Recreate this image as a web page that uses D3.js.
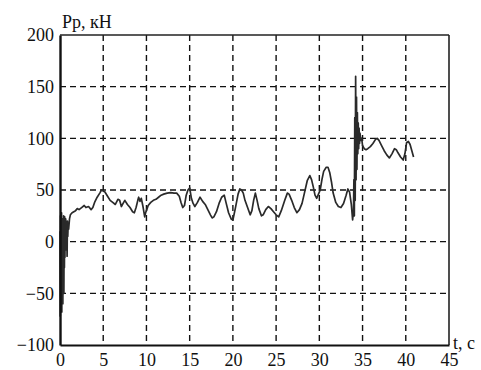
<!DOCTYPE html>
<html>
<head>
<meta charset="utf-8">
<script src="https://cdn.jsdelivr.net/npm/d3@7"></script>
<style>
  html, body { margin: 0; padding: 0; background: #ffffff; }
  svg { display: block; }
  svg text { font-family: "Liberation Serif", "Times New Roman", Times, "DejaVu Serif", serif !important; font-size: 18px; fill: #111; }
</style>
</head>
<body>
<svg id="chart" width="481" height="370"></svg>
<script>
// ---- data ----
const xTicks = [0, 5, 10, 15, 20, 25, 30, 35, 40, 45];
const yTicks = [-100, -50, 0, 50, 100, 150, 200];
const yTickLabels = ["\u2212100", "\u221250", "0", "50", "100", "150", "200"];
const yAxisTitle = "Pp, \u043a\u041d";
const xAxisTitle = "t, c";

const time = [
  0.00,0.03,0.06,0.09,0.12,0.15,0.18,0.21,0.24,0.27,0.30,0.33,0.36,0.39,0.42,0.45,0.48,0.51,0.54,0.57,
  0.60,0.63,0.66,0.69,0.72,0.75,0.78,0.82,0.86,0.90,0.95,1.0,1.1,1.2,1.4,1.6,1.8,2.0,2.2,2.5,
  2.8,3.0,3.3,3.6,3.8,4.0,4.3,4.6,4.8,5.0,5.2,5.5,5.8,6.1,6.4,6.7,6.9,7.1,7.3,7.5,
  7.8,8.1,8.4,8.6,8.8,9.0,9.1,9.25,9.4,9.6,9.8,9.9,10.0,10.2,10.5,10.8,11.1,11.4,11.7,12.0,
  12.4,12.8,13.2,13.5,13.8,14.0,14.2,14.4,14.6,14.8,15.0,15.2,15.4,15.6,15.9,16.2,16.5,16.8,17.1,17.4,
  17.6,17.8,18.1,18.4,18.7,19.0,19.2,19.5,19.8,20.0,20.3,20.6,20.8,21.0,21.2,21.4,21.7,22.0,22.2,22.4,
  22.6,22.8,23.0,23.3,23.5,23.8,24.1,24.4,24.7,25.0,25.3,25.6,26.0,26.3,26.5,26.8,27.1,27.4,27.7,28.0,
  28.3,28.6,28.9,29.1,29.3,29.5,29.7,29.9,30.1,30.3,30.5,30.8,31.0,31.2,31.4,31.6,31.9,32.2,32.5,32.8,
  33.1,33.3,33.5,33.7,33.85,33.95,34.0,34.05,34.1,34.15,34.2,34.25,34.3,34.35,34.4,34.45,34.5,34.55,34.6,34.65,
  34.7,34.8,34.9,35.0,35.2,35.4,35.6,35.9,36.2,36.5,36.7,36.9,37.2,37.5,37.8,38.1,38.4,38.7,38.9,39.1,
  39.4,39.7,39.9,40.1,40.3,40.5,40.7,40.9
];
const force = [
  10,-72,25,-65,20,-55,28,-68,18,-45,22,-60,15,-35,25,-50,20,-25,24,-15,
  18,0,22,-8,20,2,16,-14,20,5,18,12,22,26,28,29,30,32,31,33,
  35,33,34,31,33,38,43,47,50,49,48,44,40,38,36,41,40,34,37,40,
  36,33,29,28,33,40,43,39,42,34,24,28,30,35,38,40,41,43,45,46,
  47,47.5,47,47,44,38,33,35,45,50,52,42,37,34,38,43,39,36,31,26,
  23,24,29,37,43,45,38,28,22,21,33,46,51,50,47,40,33,26,30,40,
  47,40,32,25,26,31,34,32,29,26,24,30,40,47,46,40,33,28,31,37,
  48,59,64,60,53,45,42,46,50,60,68,72,72,67,58,47,38,34,33,37,
  45,51,48,36,21,30,60,25,120,40,160,60,140,70,125,85,115,90,110,95,
  105,98,100,93,90,89,90,92,95,99,100,98,93,88,84,81,85,90,89,86,
  82,79,85,96,97,94,88,82
];

// ---- chart ----
const svg = d3.select("#chart");
const mLeft = 60, mRight = 449, mTop = 35, mBottom = 345;
const x = d3.scaleLinear().domain([0, 45]).range([mLeft, mRight]);
const y = d3.scaleLinear().domain([-100, 200]).range([mBottom, mTop]);

// grid
const grid = svg.append("g").attr("stroke", "#111").attr("stroke-width", 1.4)
  .attr("stroke-dasharray", "6,4");
grid.selectAll("line.v").data(xTicks.filter(d => d > 0 && d < 45)).join("line")
  .attr("class", "v")
  .attr("x1", d => x(d)).attr("x2", d => x(d)).attr("y1", y(200)).attr("y2", y(-100));
grid.selectAll("line.h").data(yTicks.filter(d => d > -100 && d < 200)).join("line")
  .attr("class", "h")
  .attr("x1", x(0)).attr("x2", x(45)).attr("y1", d => y(d)).attr("y2", d => y(d));

// frame
svg.append("line").attr("x1", x(0)).attr("x2", x(45)).attr("y1", y(200)).attr("y2", y(200))
  .attr("stroke", "#222").attr("stroke-width", 1.4);
svg.append("line").attr("x1", x(45)).attr("x2", x(45)).attr("y1", y(200)).attr("y2", y(-100))
  .attr("stroke", "#222").attr("stroke-width", 1.6);

// data line
const pts = time.map((t, i) => [t, force[i]]);
svg.append("path").datum(pts)
  .attr("fill", "none").attr("stroke", "#2a2a2a").attr("stroke-width", 1.7)
  .attr("stroke-linejoin", "round")
  .attr("d", d3.line().x(d => x(d[0])).y(d => y(d[1])));

// axes
const yAxis = d3.axisLeft(y).tickValues(yTicks).tickSize(0).tickPadding(6)
  .tickFormat((d, i) => yTickLabels[i]);
const gy = svg.append("g").attr("transform", `translate(${mLeft},0)`).call(yAxis);
gy.attr("font-family", null).attr("font-size", null);
gy.select(".domain").attr("stroke", "#111").attr("stroke-width", 2.4);

const xAxis = d3.axisBottom(x).tickValues(xTicks).tickSize(0).tickPadding(8);
const gx = svg.append("g").attr("transform", `translate(0,${mBottom})`).call(xAxis);
gx.attr("font-family", null).attr("font-size", null);
gx.select(".domain").attr("stroke", "#111").attr("stroke-width", 2);

// titles
svg.append("text").attr("x", 62).attr("y", 28).text(yAxisTitle);
svg.append("text").attr("x", 453).attr("y", 349).text(xAxisTitle);
</script>
</body>
</html>
